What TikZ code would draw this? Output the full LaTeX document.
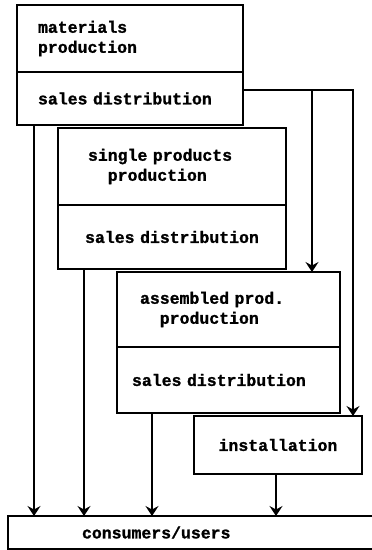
\documentclass[tikz,border=0pt]{standalone}
\usepackage{fontspec}
\newfontfamily\boxfont[BoldFeatures={FakeBold=1.2}]{Liberation Mono}
\usetikzlibrary{positioning,arrows.meta}

\tikzset{
  part/.style = {draw, rectangle, line width=2.8pt, inner sep=0pt, outer sep=0pt,
                 font=\boxfont\bfseries\fontsize{16.5}{20}\selectfont},
  flow/.style = {line width=2.8pt, -{Stealth[length=10pt,width=13pt,inset=3.5pt]}},
}

\begin{document}
\begin{tikzpicture}[x=1pt, y=1pt]
  \useasboundingbox (0,0) rectangle (372,-550);

  % materials
  \node[part, anchor=north west, minimum width=226pt, minimum height=67pt,
        text width=184pt, align=left] (prod1) at (17,-5) {materials\\production};
  \node[part, below=0pt of prod1, minimum width=226pt, minimum height=53pt,
        text width=184pt, align=left] (sales1) {sales distribution};

  % single products
  \node[part, anchor=north west, minimum width=228pt, minimum height=77pt,
        text width=168pt, align=left] (prod2) at (58,-128) {single products\\\phantom{xx}production};
  \node[part, below=0pt of prod2, minimum width=228pt, minimum height=64pt,
        text width=180pt, align=center] (sales2) {sales distribution};

  % assembled products
  \node[part, anchor=north west, minimum width=223pt, minimum height=75pt,
        text width=177pt, align=left] (prod3) at (117,-272) {assembled prod.\\\phantom{xx}production};
  \node[part, below=0pt of prod3, minimum width=223pt, minimum height=66pt,
        text width=193pt, align=left] (sales3) {sales distribution};

  \node[part, anchor=north west, minimum width=168pt, minimum height=58pt] (inst) at (194,-416) {installation};

  \node[part, anchor=north west, minimum width=372pt, minimum height=33pt,
        text width=224pt, align=left] (cons) at (8,-516) {consumers/users};

  \coordinate (split) at ([yshift=-18pt]sales1.north east);

  \draw[flow] ([xshift=17pt]sales1.south west) -- ([xshift=17pt]sales1.south west |- cons.north);
  \draw[flow] ([xshift=26pt]sales2.south west) -- ([xshift=26pt]sales2.south west |- cons.north);
  \draw[flow] ([xshift=35pt]sales3.south west) -- ([xshift=35pt]sales3.south west |- cons.north);
  \draw[flow] ([xshift=82pt]inst.south west) -- ([xshift=82pt]inst.south west |- cons.north);
  \draw[flow] (split) -| ([xshift=-28pt]prod3.north east);
  \draw[flow] (split) -| ([xshift=-9pt]inst.north east);
\end{tikzpicture}
\end{document}
